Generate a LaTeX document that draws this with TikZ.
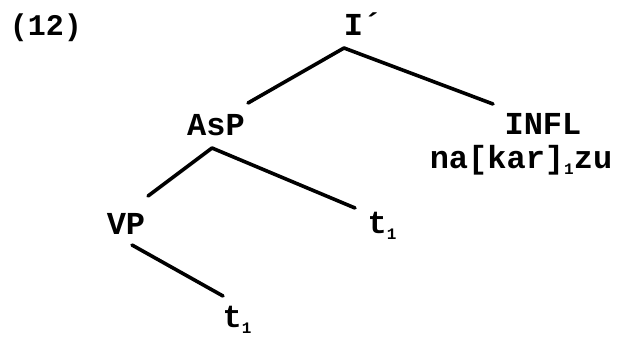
\documentclass[tikz,border=0pt]{standalone}
\usepackage{fontspec}
\setmonofont{Liberation Mono}
\usetikzlibrary{calc}
\newcommand{\tsub}[1]{\raisebox{-6pt}{\fontsize{16}{16}\selectfont #1}}
\tikzset{
  lbl/.style={inner sep=0pt, anchor=base, font=\ttfamily\bfseries\fontsize{32}{32}\selectfont},
  exnum/.style={inner sep=0pt, anchor=base, font=\ttfamily\bfseries\fontsize{30}{30}\selectfont},
  branch/.style={line width=3.6pt, line cap=round}
}
\begin{document}
\begin{tikzpicture}[x=1pt,y=-1pt]
\useasboundingbox (0,0) rectangle (624,338);
\node[exnum] (num) at (46,35) {(12)};
\node[lbl] (i) at (363,35) {I´};
\node[lbl] (asp) at (216,135) {AsP};
\node[lbl] (infl) at (543,134) {INFL};
\node[lbl] (naz) at (521,168) {na[kar]\tsub{1}zu};
\node[lbl] (vp) at (126,234) {VP};
\node[lbl] (ta) at (382,233) {t\tsub{1}};
\node[lbl] (tb) at (237,327) {t\tsub{1}};
\draw[branch] ($(i.base)+(-19,13)$) -- ($(asp.base)+(32,-32)$);
\draw[branch] ($(i.base)+(-19,13)$) -- ($(infl.base)+(-50,-30)$);
\draw[branch] ($(asp.base)+(-4,13)$) -- ($(vp.base)+(22,-38)$);
\draw[branch] ($(asp.base)+(-4,13)$) -- ($(ta.base)+(-27,-25)$);
\draw[branch] ($(vp.base)+(6,11)$) -- ($(tb.base)+(-14,-31)$);
\end{tikzpicture}
\end{document}
